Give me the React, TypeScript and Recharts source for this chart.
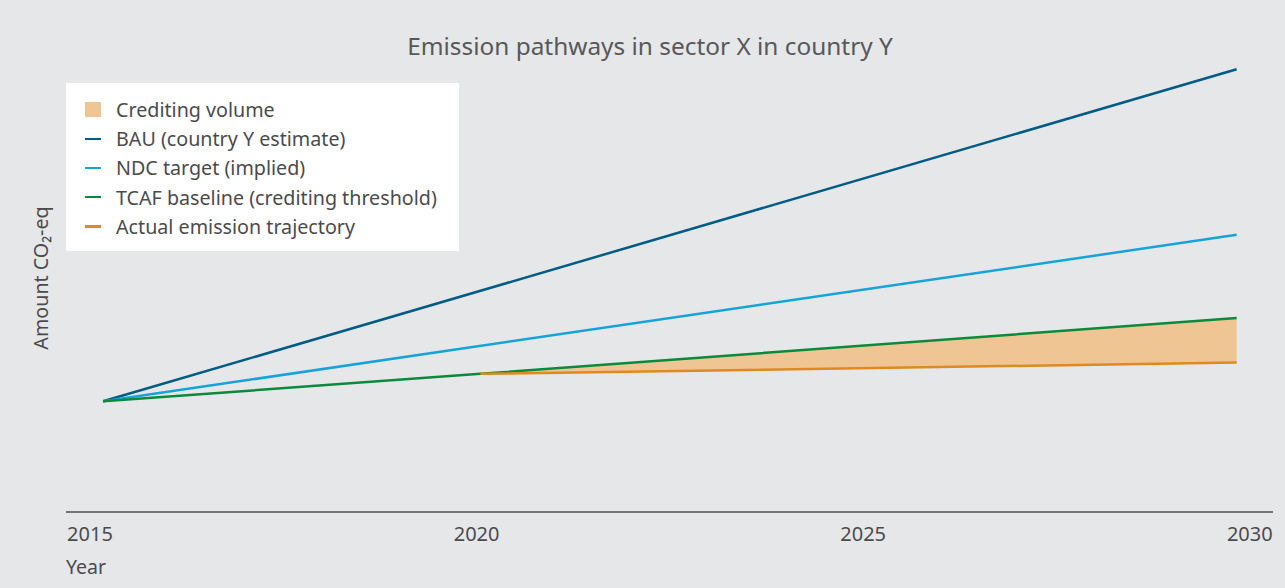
import { ComposedChart, Line, Area, XAxis, YAxis } from 'recharts'

const years = [2015.17, 2020.05, 2029.83]
const bau = [24.6, null, 98.4]
const ndc = [24.6, null, 61.6]
const tcaf = [24.6, 30.7, 43.1]
const actual = [null, 30.7, 33.2]
const ticks = [2015, 2020, 2025, 2030]

const legendItems = [
  { name: 'Crediting volume', color: '#efc594', kind: 'square' },
  { name: 'BAU (country Y estimate)', color: '#005b85', kind: 'line' },
  { name: 'NDC target (implied)', color: '#15a3dc', kind: 'line' },
  { name: 'TCAF baseline (crediting threshold)', color: '#0a8a3c', kind: 'line' },
  { name: 'Actual emission trajectory', color: '#e0891e', kind: 'line' },
]

const data = years.map((year, i) => ({
  year,
  bau: bau[i],
  ndc: ndc[i],
  tcaf: tcaf[i],
  actual: actual[i],
  credit: actual[i] != null && tcaf[i] != null ? [actual[i], tcaf[i]] : null,
}))

const font = '"Noto Sans", "Open Sans", sans-serif'
const textColor = '#4b4b4d'

function LegendBox() {
  return (
    <div
      style={{
        position: 'absolute',
        left: 66,
        top: 83,
        width: 393,
        height: 168,
        background: '#ffffff',
        boxSizing: 'border-box',
        paddingTop: 12,
        paddingLeft: 19,
      }}
    >
      {legendItems.map((item) => (
        <div
          key={item.name}
          style={{ display: 'flex', alignItems: 'center', height: 29.2, fontSize: 19.7, color: textColor }}
        >
          <span
            style={{
              display: 'inline-block',
              width: 16,
              height: item.kind === 'square' ? 15 : 2.5,
              background: item.color,
              marginRight: 15,
            }}
          />
          <span>{item.name}</span>
        </div>
      ))}
    </div>
  )
}

export default function App() {
  return (
    <div
      style={{
        position: 'absolute',
        left: 0,
        top: 0,
        width: 1285,
        height: 588,
        background: '#e6e7e9',
        fontFamily: font,
        overflow: 'hidden',
      }}
    >
      <div
        style={{
          position: 'absolute',
          top: 30,
          left: 0,
          width: 1300,
          textAlign: 'center',
          fontSize: 24.4,
          color: '#58585a',
          lineHeight: '32px',
        }}
      >
        Emission pathways in sector X in country Y
      </div>
      <ComposedChart
        width={1285}
        height={588}
        data={data}
        margin={{ top: 62, right: 12, bottom: 36, left: 66 }}
      >
        <XAxis
          dataKey="year"
          type="number"
          domain={[2014.69, 2030.3]}
          ticks={ticks}
          allowDataOverflow
          height={40}
          tickLine={false}
          tickSize={6}
          tickMargin={9}
          axisLine={{ stroke: '#4b4b4d', strokeWidth: 1.5 }}
          tick={{ fill: textColor, fontSize: 20, fontFamily: font }}
          interval={0}
        />
        <YAxis hide domain={[0, 100]} allowDataOverflow />
        <Area
          dataKey="credit"
          stroke="none"
          fill="#efc594"
          fillOpacity={1}
          isAnimationActive={false}
          dot={false}
          activeDot={false}
        />
        <Line dataKey="bau" stroke="#005b85" strokeWidth={2.5} dot={false} connectNulls isAnimationActive={false} />
        <Line dataKey="ndc" stroke="#15a3dc" strokeWidth={2.5} dot={false} connectNulls isAnimationActive={false} />
        <Line dataKey="tcaf" stroke="#0a8a3c" strokeWidth={2.5} dot={false} isAnimationActive={false} />
        <Line dataKey="actual" stroke="#e0891e" strokeWidth={2.5} dot={false} isAnimationActive={false} />
      </ComposedChart>
      <LegendBox />
      <div
        style={{
          position: 'absolute',
          left: 40,
          top: 278,
          transform: 'translate(-50%, -50%) rotate(-90deg)',
          whiteSpace: 'nowrap',
          fontSize: 19.7,
          color: textColor,
        }}
      >
        Amount CO₂-eq
      </div>
      <div style={{ position: 'absolute', left: 66, top: 553, fontSize: 19.5, color: textColor }}>Year</div>
    </div>
  )
}
